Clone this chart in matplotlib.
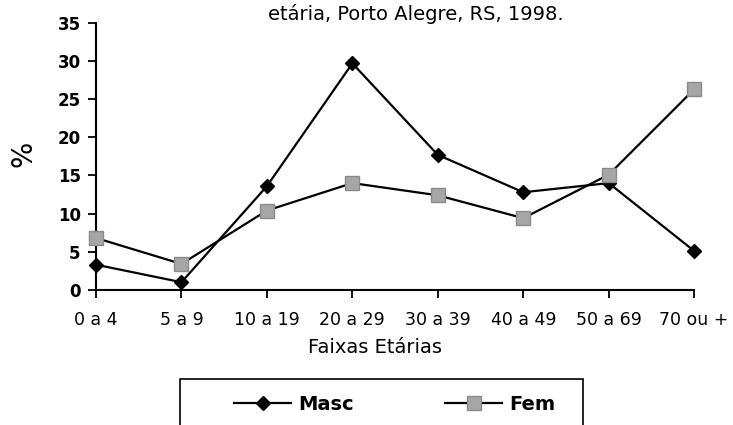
import matplotlib
matplotlib.use('Agg')
import matplotlib.pyplot as plt
from matplotlib.patches import Rectangle

plt.rcParams['font.family'] = ['DejaVu Sans']

# faixas etarias e percentuais
faixas = ['0 a 4', '5 a 9', '10 a 19', '20 a 29', '30 a 39', '40 a 49', '50 a 69', '70 ou +']
masc = [3.3, 1.0, 13.6, 29.7, 17.7, 12.8, 14.0, 5.1]
fem = [6.8, 3.4, 10.4, 14.0, 12.4, 9.4, 15.1, 26.3]
yticks = [0, 5, 10, 15, 20, 25, 30, 35]

fig = plt.figure(figsize=(7.33, 4.25), dpi=100)
ax = fig.add_axes([0.131, 0.318, 0.816, 0.628])

x = list(range(len(faixas)))
ax.plot(x, masc, color='black', lw=1.6, marker='D', ms=7.5,
        mfc='black', mec='black', label='Masc', clip_on=False, zorder=3)
ax.plot(x, fem, color='black', lw=1.6, marker='s', ms=9.5,
        mfc='#a6a6a6', mec='#8a8a8a', mew=1.0, label='Fem', clip_on=False, zorder=3)

ax.set_xlim(0, len(faixas) - 1)
ax.set_ylim(0, 35)
ax.set_yticks(yticks)
ax.set_yticklabels([str(v) for v in yticks], fontsize=12, fontweight='bold')
ax.set_xticks(x)
ax.set_xticklabels(faixas, fontsize=12.5)
ax.tick_params(axis='both', direction='out', length=6, width=1.3)
ax.tick_params(axis='y', pad=5)
ax.tick_params(axis='x', pad=9.5)
for s in ['top', 'right']:
    ax.spines[s].set_visible(False)
for s in ['left', 'bottom']:
    ax.spines[s].set_linewidth(1.5)

xl = ax.set_xlabel('Faixas Etárias', fontsize=14)
xl.set_va('center')
ax.xaxis.set_label_coords(0.467, -0.217)
yl = ax.set_ylabel('%', fontsize=20)
yl.set_va('center')
ax.yaxis.set_label_coords(-0.122, 0.51)

# titulo cortado no topo da imagem
fig.text(0.567, 0.968, 'etária, Porto Alegre, RS, 1998.', fontsize=14, va='center', ha='center')

# caixa da legenda (aberta embaixo, cortada pela borda)
fig.patches.append(Rectangle((0.2456, -0.1), 0.55, 0.208, transform=fig.transFigure,
                             fill=False, ec='black', lw=1.2))
leg = fig.legend(loc='center left', bbox_to_anchor=(0.296, 0.049), ncol=2, frameon=False,
                 handlelength=2.93, columnspacing=4.68, handletextpad=0.36,
                 prop={'size': 14, 'weight': 'bold'})

fig.savefig('out.png', dpi=100)
